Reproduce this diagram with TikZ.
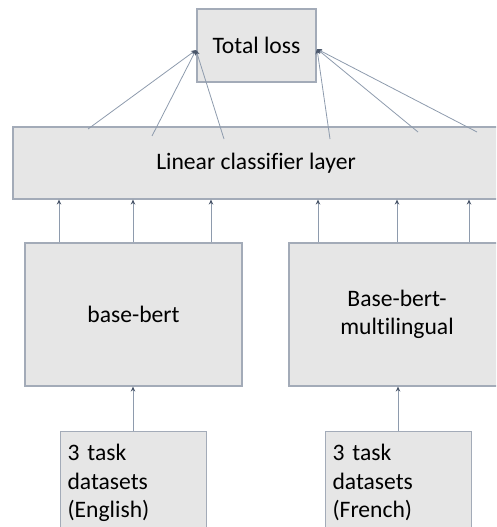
\documentclass[tikz,border=0pt]{standalone}
\usepackage{fontspec}
\setmainfont{Carlito}[Ligatures=NoCommon]
\usetikzlibrary{arrows.meta}
\definecolor{boxfill}{HTML}{E6E6E6}
\definecolor{boxline}{HTML}{A3ABB8}
\definecolor{connc}{HTML}{8E9BAD}
\definecolor{tipc}{HTML}{4A566A}
\begin{document}
\begin{tikzpicture}[x=1pt,y=-1pt,
  box/.style={draw=boxline, fill=boxfill, line width=1.1pt, inner sep=0pt,
              font=\fontsize{23.6}{27.5}\selectfont},
  databox/.style={box, anchor=north west, text width=132pt, align=left,
              inner xsep=7pt, inner ysep=13pt, text depth=70pt,
              font=\fontsize{23.6}{28.3}\selectfont},
  conn/.style={draw=connc, line width=0.8pt,
               -{Stealth[length=5pt,width=4.5pt,fill=tipc,color=tipc]}}]
\clip (0,0) rectangle (496,527);
\useasboundingbox (0,0) rectangle (496,527);

\node[box, minimum width=119pt, minimum height=73pt] (loss) at (256.5,45.5) {Total loss};
\node[box, minimum width=486pt, minimum height=72pt] (cls) at (256,163) {Linear classifier layer};
\node[box, minimum width=217pt, minimum height=143pt] (bb) at (133.5,314.5) {base-bert};
\node[box, minimum width=216pt, minimum height=143pt, align=center] (ml) at (397,314.5) {Base-bert-\\multilingual};
\node[databox] (en) at (60,431) {3 task\\datasets\\(English)};
\node[databox] (fr) at (325,431) {3 task\\datasets\\(French)};

\coordinate (lt) at (196,50);
\coordinate (rt) at (317,49);
\coordinate (c1) at (88,129);
\coordinate (c2) at (152,136);
\coordinate (c3) at (224,139);
\coordinate (c4) at (330,139);
\coordinate (c5) at (418,132);
\coordinate (c6) at (477,132);

\foreach \c in {c1,c2,c3} \draw[conn] (\c) -- (lt);
\foreach \c in {c4,c5,c6} \draw[conn] (\c) -- (rt);

\foreach \x in {59,133,211} \draw[conn] (\x,0 |- bb.north) -- (\x,0 |- cls.south);
\foreach \x in {318,397,469} \draw[conn] (\x,0 |- ml.north) -- (\x,0 |- cls.south);

\draw[conn] (133,0 |- en.north) -- (133,0 |- bb.south);
\draw[conn] (398,0 |- fr.north) -- (398,0 |- ml.south);
\end{tikzpicture}
\end{document}
